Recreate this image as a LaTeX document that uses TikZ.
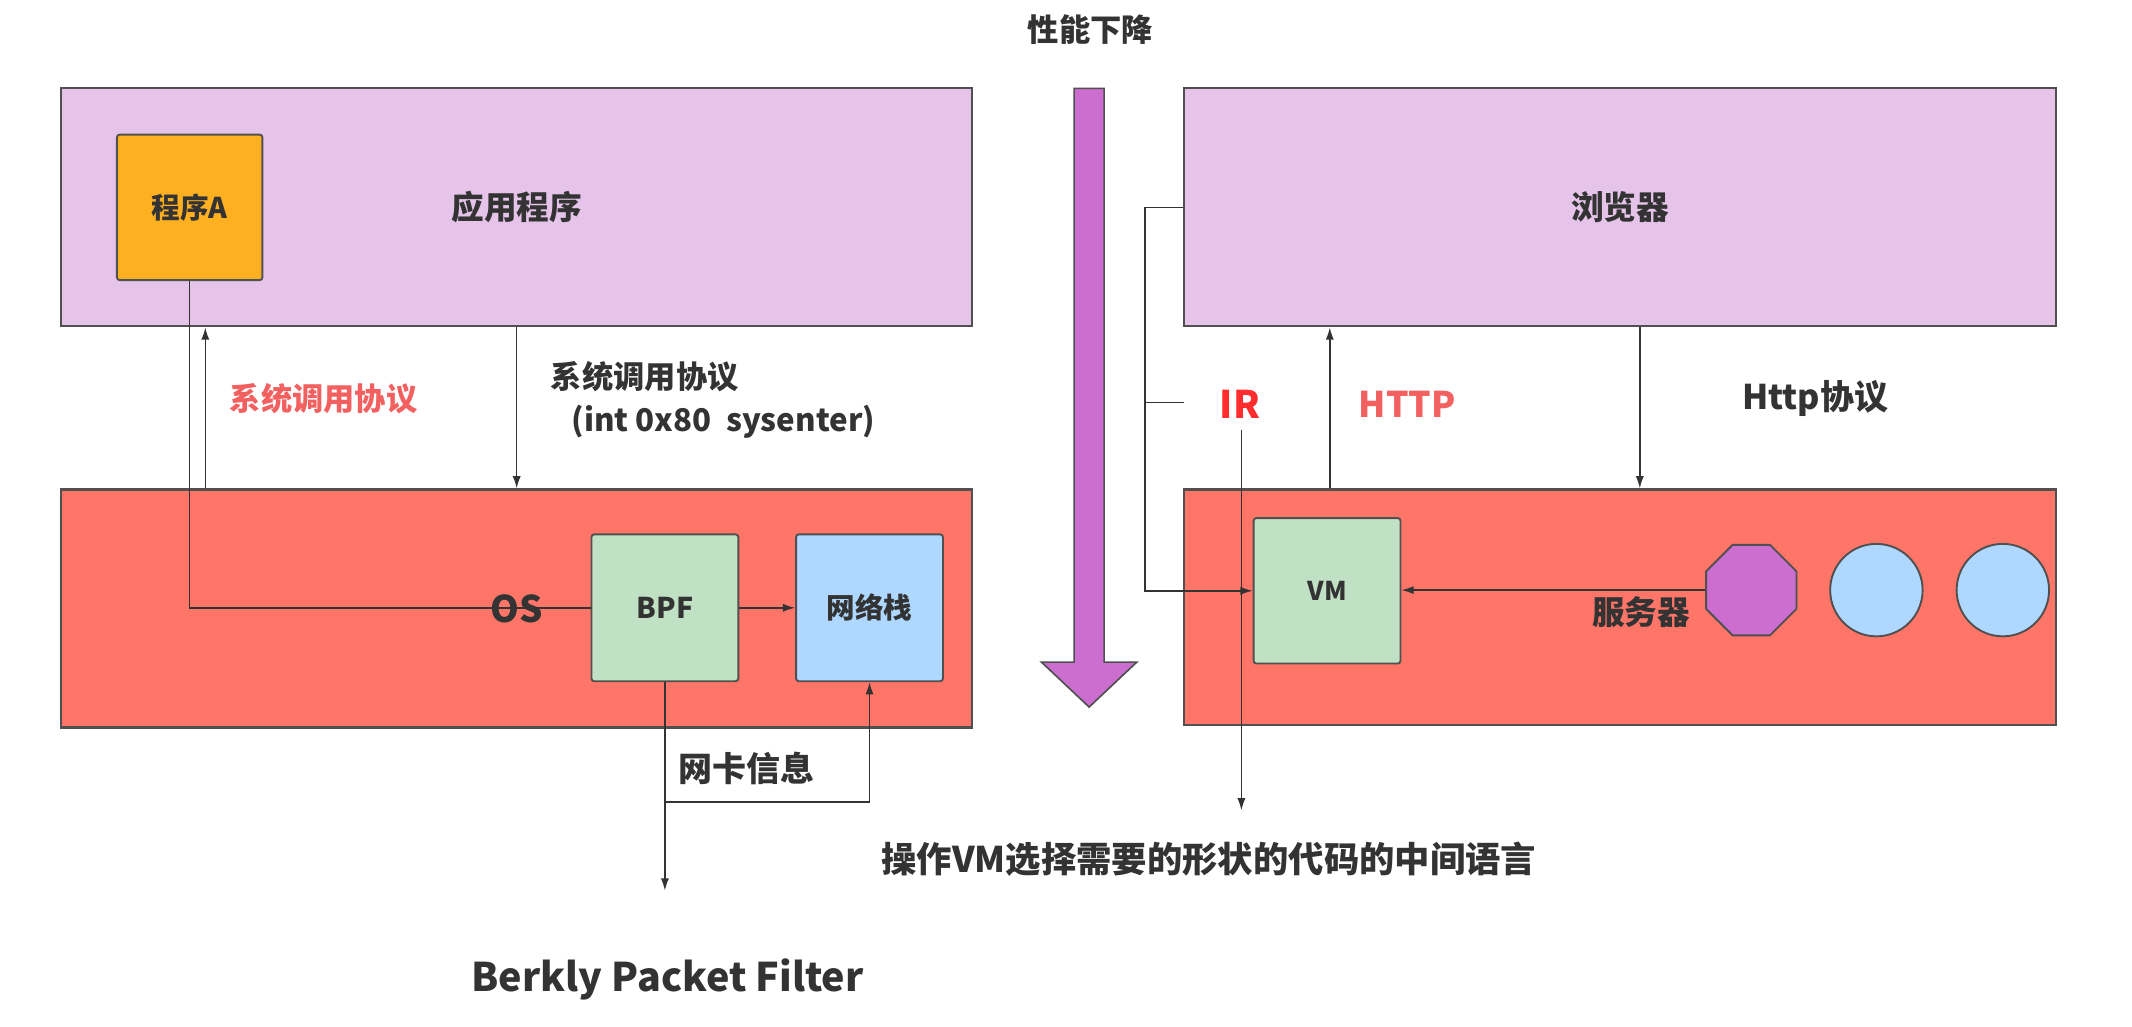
\documentclass[tikz,border=0pt]{standalone}
\usepackage{fontspec}
\setmainfont{Noto Sans CJK SC}
\usetikzlibrary{arrows.meta,shapes.geometric,calc}
\definecolor{appfill}{RGB}{230,196,234}
\definecolor{osfill}{RGB}{255,117,104}
\definecolor{progfill}{RGB}{255,176,32}
\definecolor{bpffill}{RGB}{192,225,196}
\definecolor{netfill}{RGB}{174,216,255}
\definecolor{arrowfill}{RGB}{204,110,208}
\definecolor{txt}{RGB}{51,51,51}
\definecolor{edge}{RGB}{80,80,80}
\definecolor{redlbl}{RGB}{242,96,96}
\definecolor{irred}{RGB}{255,45,45}
\newcommand\fsz[1]{\fontsize{#1}{#1}\selectfont\bfseries}
\begin{document}
\begin{tikzpicture}[x=1pt,y=-1pt,
  layer/.style={draw=edge,line width=1.6pt,inner sep=0pt,text=txt,font=\fsz{24}},
  innerbox/.style={draw=edge,line width=1.4pt,rounded corners=2pt,inner sep=0pt,text=txt,minimum width=108pt,minimum height=108pt,font=\fsz{21}},
  conn/.style={draw=txt,line width=1.1pt},
  arr/.style={conn,-{Latex[length=9pt,width=6pt]}},
  lbl/.style={text=txt,inner sep=0pt,font=\fsz{23}},
]
\fill[white] (0,0) rectangle (1568,755);
\useasboundingbox (0,0) rectangle (1568,755);

% ---------- left side ----------
\node[layer,fill=appfill,minimum width=670pt,minimum height=175pt] (app) at (380,152.5) {应用程序};
\node[innerbox,fill=progfill,minimum width=107pt,minimum height=107pt] (progA) at (139.5,152.5) {程序A};
\node[layer,fill=osfill,minimum width=670pt,minimum height=175pt] (os) at (380,447.5) {};
\node[innerbox,fill=bpffill] (bpf) at (489,447) {BPF};
\node[innerbox,fill=netfill] (net) at (639.5,447) {网络栈};

\draw[conn] (progA.south) |- (bpf.west);
\node[lbl,font=\fsz{27}] (oslbl) at (380,448) {OS};

\coordinate (c151) at (151,0);
\draw[arr] (os.north -| c151) -- (app.south -| c151);
\node[lbl,text=redlbl] (sys1) at (238,293) {系统调用协议};
\draw[arr] (app.south) -- (os.north);
\node[lbl,anchor=west] (sys2) at (405,277) {系统调用协议};
\node[lbl] (sys3) at (532,310) {(int 0x80\ \ sysenter)};

\draw[arr] (bpf.east) -- (net.west);
\coordinate (bpfout) at (489,655);
\draw[arr] (bpf.south) -- (bpfout);
\coordinate (br) at (489,590);
\draw[arr] (br) -| (net.south);
\node[lbl,font=\fsz{25}] (nic) at (549,565) {网卡信息};
\node[lbl,font=\fsz{29}] (bpfname) at (491,720) {Berkly Packet Filter};

% ---------- middle arrow ----------
\node[lbl] (perf) at (802,22) {性能下降};
\filldraw[fill=arrowfill,draw=edge,line width=1.2pt]
  (790,65) -- (812,65) -- (812,487) -- (836,487) -- (801,520) -- (766,487) -- (790,487) -- cycle;

% ---------- right side ----------
\node[layer,fill=appfill,minimum width=641pt,minimum height=175pt] (browser) at (1191.5,152.5) {浏览器};
\node[layer,fill=osfill,minimum width=641pt,minimum height=173pt] (server) at (1191.5,446.5) {};
\node[innerbox,fill=bpffill,minimum height=107pt,font=\fsz{19}] (vm) at (976,434.5) {VM};
\node[regular polygon,regular polygon sides=8,draw=edge,line width=1.4pt,fill=arrowfill,minimum size=72pt,inner sep=0pt] (oct) at (1288,434) {};
\node[circle,draw=edge,line width=1.4pt,fill=netfill,minimum size=68pt,inner sep=0pt] (c1) at (1380,434) {};
\node[circle,draw=edge,line width=1.4pt,fill=netfill,minimum size=68pt,inner sep=0pt] (c2) at (1473,434) {};

\draw[arr] (oct.west) -- (vm.east |- oct.west);
\node[lbl,font=\fsz{24}] (srv) at (1207,450) {服务器};

\draw[arr] (browser.west) -- ++(-28,0) |- (vm.west);
\coordinate (tickL) at (843,296);
\coordinate (tickR) at (871,296);
\draw[conn] (tickL) -- (tickR);
\node[lbl,text=irred,font=\fsz{28}] (ir) at (912,297) {IR};
\coordinate (irtop) at (913,316);
\coordinate (irbot) at (913,596);
\draw[arr] (irtop) -- (irbot);
\node[lbl,font=\fsz{26}] (irdesc) at (889,632) {操作VM选择需要的形状的代码的中间语言};

\coordinate (c978) at (978,0);
\draw[arr] (server.north -| c978) -- (browser.south -| c978);
\node[lbl,text=redlbl,font=\fsz{26}] (http1) at (1035,297) {HTTP};
\coordinate (c1206) at (1206,0);
\draw[arr] (browser.south -| c1206) -- (server.north -| c1206);
\node[lbl,font=\fsz{25}] (http2) at (1335,293) {Http协议};
\end{tikzpicture}
\end{document}
